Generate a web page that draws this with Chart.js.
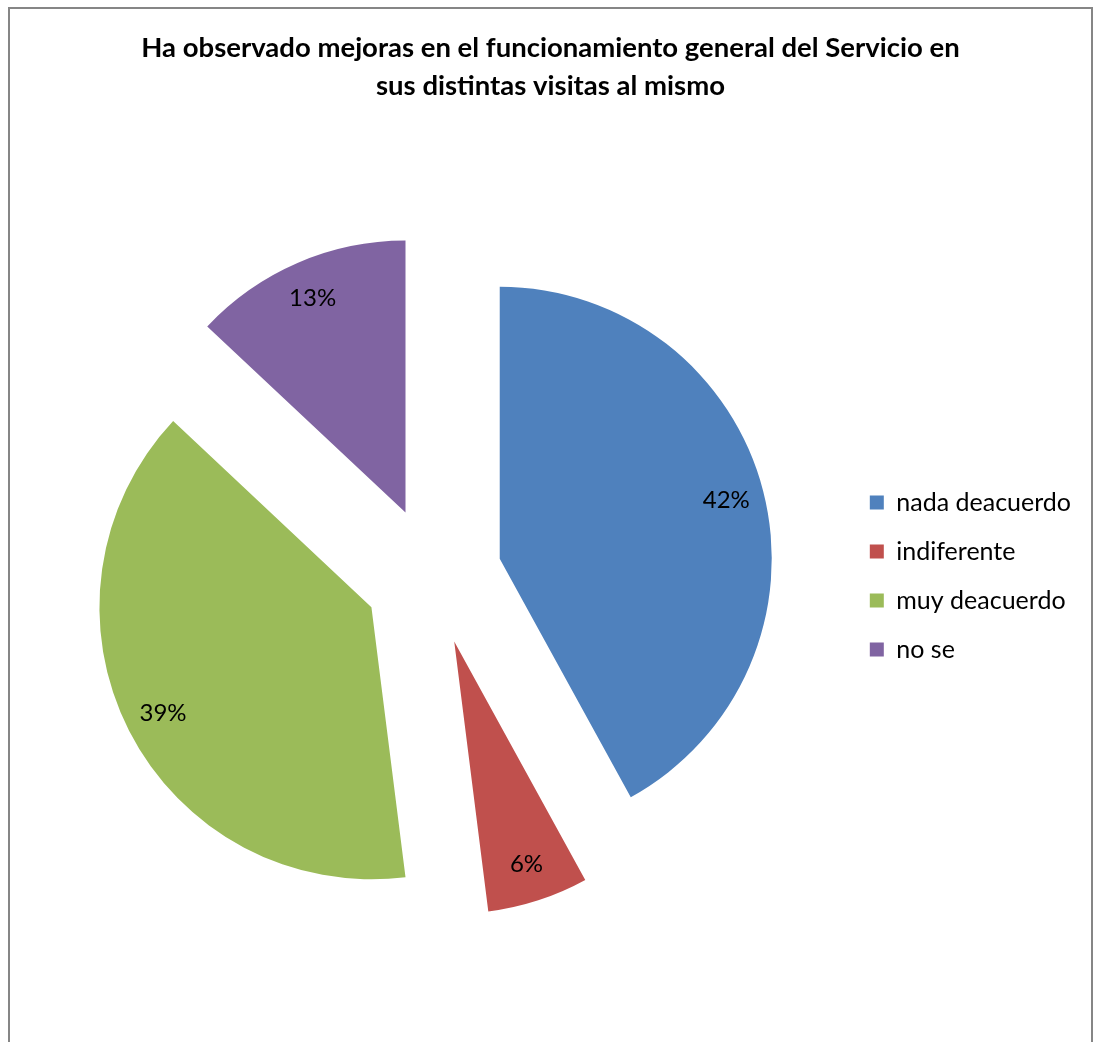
<!DOCTYPE html>
<html>
<head>
<meta charset="utf-8">
<script src="https://cdn.jsdelivr.net/npm/chart.js@4.4.0/dist/chart.umd.min.js"></script>
<style>
  html, body { margin: 0; padding: 0; background: #fff; overflow: hidden; }
  #frame {
    position: absolute; left: 8px; top: 7px;
    width: 1081px; height: 1100px;
    border: 2px solid #868686;
  }
  #wrap { position: absolute; left: 0; top: 0; width: 1094px; height: 1042px; }
</style>
</head>
<body>
<div id="frame"></div>
<div id="wrap"><canvas id="pie"></canvas></div>
<script>
const categories = ['nada deacuerdo', 'indiferente', 'muy deacuerdo', 'no se'];
const shares = [42, 6, 39, 13];
const colors = ['#4F81BD', '#C0504D', '#9BBB59', '#8064A2'];
const titleLines = ['Ha observado mejoras en el funcionamiento general del Servicio en', 'sus distintas visitas al mismo'];

const FONT = 'Lato, "Liberation Sans", sans-serif';

// pull every slice away from the centre along its bisector
const explodePlugin = {
    id: 'explode',
    afterDatasetUpdate(chart, args, opts) {
        args.meta.data.forEach(function(arc) {
            const mid = (arc.startAngle + arc.endAngle) / 2;
            arc.x += Math.cos(mid) * opts.distance;
            arc.y += Math.sin(mid) * opts.distance;
        });
    }
};

// percentage text inside each slice
const pctLabels = {
    id: 'pctLabels',
    afterDatasetsDraw(chart, args, opts) {
        const ctx = chart.ctx;
        const data = chart.data.datasets[0].data;
        const total = data.reduce(function(a, b) { return a + b; }, 0);
        ctx.save();
        ctx.font = opts.size + 'px ' + FONT;
        ctx.fillStyle = '#000';
        ctx.textAlign = 'center';
        ctx.textBaseline = 'middle';
        chart.getDatasetMeta(0).data.forEach(function(arc, i) {
            const mid = (arc.startAngle + arc.endAngle) / 2;
            const r = arc.outerRadius * opts.ratio;
            const pct = Math.round(data[i] / total * 100) + '%';
            ctx.fillText(pct, arc.x + Math.cos(mid) * r, arc.y + Math.sin(mid) * r);
        });
        ctx.restore();
    }
};

new Chart(document.getElementById('pie'), {
    type: 'pie',
    data: {
        labels: categories,
        datasets: [{
            data: shares,
            backgroundColor: colors,
            borderWidth: 0
        }]
    },
    options: {
        responsive: true,
        maintainAspectRatio: false,
        animation: false,
        radius: 272,
        layout: {
            padding: { left: 20, right: 13, top: 9, bottom: 0 }
        },
        plugins: {
            title: {
                display: true,
                text: titleLines,
                color: '#000',
                font: { family: FONT, size: 27.5, weight: 'bold', lineHeight: 1.38 },
                padding: { top: 20, bottom: 5 }
            },
            legend: {
                position: 'right',
                fullSize: false,
                labels: {
                    boxWidth: 14,
                    boxHeight: 14,
                    padding: 24,
                    color: '#000',
                    font: { family: FONT, size: 25 }
                }
            },
            tooltip: { enabled: false },
            explode: { distance: 69 },
            pctLabels: { size: 24, ratio: 0.86 }
        }
    },
    plugins: [explodePlugin, pctLabels]
});
</script>
</body>
</html>
